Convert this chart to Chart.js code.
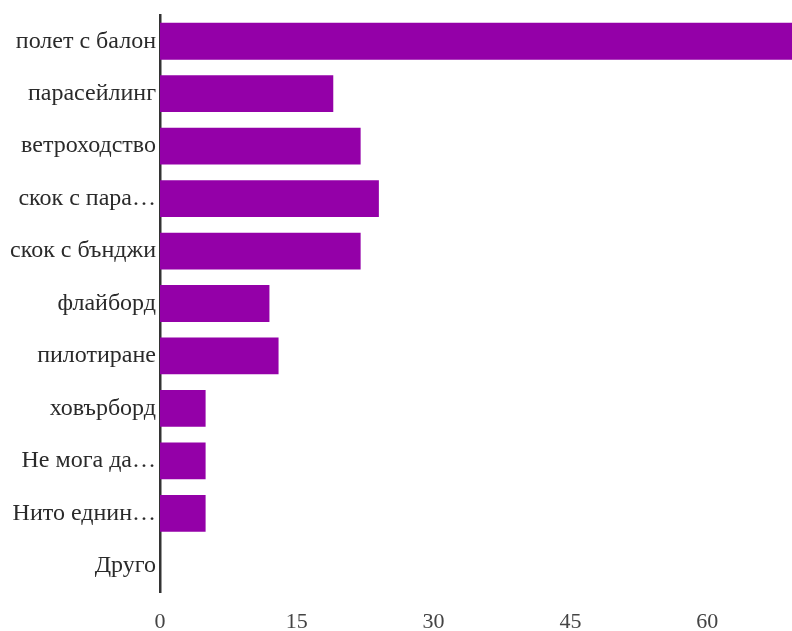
<!DOCTYPE html>
<html>
<head>
<meta charset="utf-8">
<script src="https://cdn.jsdelivr.net/npm/chart.js@4"></script>
<style>
html,body{margin:0;padding:0;background:#fff;}
#wrap{width:792px;height:631px;}
</style>
</head>
<body>
<div id="wrap"><canvas id="c" width="792" height="631"></canvas></div>
<script>
const categories = ["полет с балон","парасейлинг","ветроходство","скок с пара…","скок с бънджи","флайборд","пилотиране","ховърборд","Не мога да…","Нито еднин…","Друго"];
const values = [70,19,22,24,22,12,13,5,5,5,0];
const xTicks = [0,15,30,45,60];

new Chart(document.getElementById('c'), {
  type: 'bar',
  data: {
    labels: categories,
    datasets: [{
      data: values,
      backgroundColor: '#9400a8',
      borderWidth: 0,
      barPercentage: 0.78,
      categoryPercentage: 0.9
    }]
  },
  options: {
    indexAxis: 'y',
    responsive: false,
    animation: false,
    layout: {padding: {top: 15, right: 0, left: 0, bottom: 0}},
    plugins: {legend: {display: false}, tooltip: {enabled: false}},
    scales: {
      x: {
        min: 0, max: 69.3,
        grid: {display: false, drawTicks: false},
        border: {display: false},
        afterBuildTicks: (s) => { s.ticks = xTicks.map(v => ({value: v})); },
        afterFit: (s) => { s.height = 39; s.paddingLeft = 0; s.paddingRight = 0; },
        ticks: {padding: 17, color: '#444', font: {family: 'Liberation Serif', size: 22}}
      },
      y: {
        grid: {display: false, drawTicks: false},
        border: {display: true, color: '#333', width: 2.5},
        afterFit: (s) => { s.width = 160; s.paddingTop = 0; s.paddingBottom = 0; },
        ticks: {padding: 4, color: '#2a2a2a', font: {family: 'Liberation Serif', size: 24}}
      }
    }
  }
});
</script>
</body>
</html>
